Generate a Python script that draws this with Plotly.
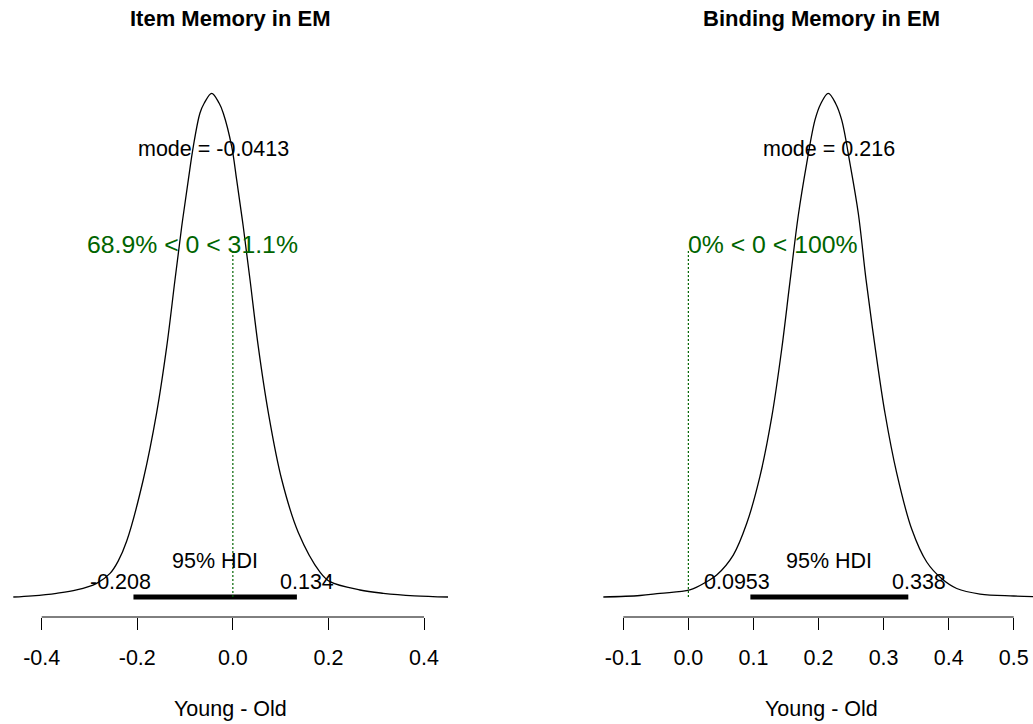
import plotly.graph_objects as go

# ---------------- data ----------------
titles = ["Item Memory in EM", "Binding Memory in EM"]
x_label = "Young - Old"

item_x = [-0.4594, -0.4200, -0.3690, -0.3270, -0.2850, -0.2570, -0.2400, -0.2221,
          -0.1874, -0.1594, -0.1384, -0.1211, -0.1071, -0.0932, -0.0828, -0.0688,
          -0.0600, -0.0443, -0.0286, -0.0200, -0.0024, 0.0080, 0.0218, 0.0359,
          0.0532, 0.0742, 0.1022, 0.1369, 0.1823, 0.2033, 0.2660, 0.3148,
          0.3800, 0.4502]
item_dens = [0.000, 0.011, 0.034, 0.064, 0.125, 0.216, 0.328, 0.511,
             1.073, 1.684, 2.286, 2.897, 3.381, 3.809, 4.113, 4.420,
             4.509, 4.600, 4.509, 4.418, 4.113, 3.809, 3.381, 2.897,
             2.286, 1.684, 1.073, 0.590, 0.228, 0.140, 0.064, 0.034,
             0.011, 0.000]

binding_x = [-0.1307, -0.0743, -0.0436, 0.0022, 0.0282, 0.0435, 0.0690, 0.0896,
             0.1101, 0.1281, 0.1434, 0.1562, 0.1689, 0.1818, 0.1946, 0.2035,
             0.2150, 0.2265, 0.2356, 0.2484, 0.2612, 0.2730, 0.2868, 0.3022,
             0.3202, 0.3432, 0.3663, 0.3900, 0.4124, 0.4482, 0.5000, 0.5630]
binding_dens = [0.000, 0.019, 0.047, 0.090, 0.196, 0.281, 0.537, 0.940,
                1.547, 2.302, 3.171, 4.041, 4.885, 5.550, 6.109, 6.317,
                6.450, 6.317, 6.109, 5.550, 4.911, 4.067, 3.210, 2.353,
                1.586, 0.870, 0.448, 0.230, 0.109, 0.038, 0.013, 0.000]

item_mode = -0.0413
binding_mode = 0.216
item_hdi = [-0.208, 0.134]
binding_hdi = [0.0953, 0.338]
comp_val = 0.0
item_pct = [68.9, 31.1]
binding_pct = [0, 100]

item_ticks = [-0.4, -0.2, 0.0, 0.2, 0.4]
item_ticklabels = ["-0.4", "-0.2", "0.0", "0.2", "0.4"]
binding_ticks = [-0.1, 0.0, 0.1, 0.2, 0.3, 0.4, 0.5]
binding_ticklabels = ["-0.1", "0.0", "0.1", "0.2", "0.3", "0.4", "0.5"]

# ---------------- layout / style ----------------
W, H = 1033, 724
FONT = "Liberation Sans, Arial, sans-serif"
GREEN = "#006400"
FS = 21.5
FS_CMP = 24.8
PAD = 2.5  # annotation box padding compensation
PLOT_TOP, BASE_Y, PEAK_Y, AXIS_Y = 80, 597, 93.3, 617

ARIAL = {**{d: 556 for d in "0123456789"}, ".": 278, "-": 333, "%": 889,
         "<": 584, " ": 278, "=": 584}


def text_w(s, fs):
    return sum(ARIAL.get(c, 556) for c in s) / 1000 * fs


panels = [
    dict(x=item_x, y=item_dens, mode=item_mode, hdi=item_hdi, pct=item_pct,
         ticks=item_ticks, ticklabels=item_ticklabels, title=titles[0],
         dom=(0, 470), rng=(-0.48726, 0.49621), cx=230),
    dict(x=binding_x, y=binding_dens, mode=binding_mode, hdi=binding_hdi,
         pct=binding_pct, ticks=binding_ticks, ticklabels=binding_ticklabels,
         title=titles[1], dom=(590, 1033), rng=(-0.15118, 0.52963), cx=821),
]

fig = go.Figure()
annotations = []
shapes = []
layout = {}

for i, p in enumerate(panels):
    n = "" if i == 0 else str(i + 1)
    xa, ya = "x" + n, "y" + n
    peak = max(p["y"])
    unit = peak / (BASE_Y - PEAK_Y)
    yr = [-(AXIS_Y - BASE_Y) * unit, (BASE_Y - PLOT_TOP) * unit]

    # density curve
    fig.add_trace(go.Scatter(x=p["x"], y=p["y"], mode="lines", xaxis=xa, yaxis=ya,
                             line=dict(color="black", width=1.3, shape="spline",
                                       smoothing=1.0),
                             hoverinfo="skip", showlegend=False))
    # HDI bar
    fig.add_trace(go.Scatter(x=p["hdi"], y=[0, 0], mode="lines", xaxis=xa, yaxis=ya,
                             line=dict(color="black", width=5),
                             hoverinfo="skip", showlegend=False))
    # comparison value line
    fig.add_trace(go.Scatter(x=[comp_val, comp_val], y=[0, 0.69 * peak], mode="lines",
                             xaxis=xa, yaxis=ya,
                             line=dict(color=GREEN, width=1.2, dash="2px,2px"),
                             hoverinfo="skip", showlegend=False))

    # axis line between first and last tick
    shapes.append(dict(type="line", xref=xa, yref=ya + " domain",
                       x0=p["ticks"][0], x1=p["ticks"][-1], y0=0, y1=0,
                       line=dict(color="black", width=1)))

    # texts
    annotations.append(dict(xref=xa, yref=ya, x=p["mode"], y=0.89 * peak,
                            text=f"mode = {p['mode']}", showarrow=False,
                            xanchor="center", yanchor="middle",
                            font=dict(size=FS, color="black", family=FONT)))
    cmp_txt = f"{p['pct'][0]}% < {comp_val:g} < {p['pct'][1]}%"
    annotations.append(dict(xref=xa, yref=ya, x=comp_val, y=0.70 * peak,
                            text=cmp_txt, showarrow=False,
                            xanchor="left", yanchor="middle",
                            xshift=-p["pct"][0] / 100 * text_w(cmp_txt, FS_CMP) - PAD,
                            font=dict(size=FS_CMP, color=GREEN, family=FONT)))
    annotations.append(dict(xref=xa, yref=ya, x=sum(p["hdi"]) / 2, y=0.0719 * peak,
                            text="95% HDI", showarrow=False,
                            xanchor="center", yanchor="middle",
                            font=dict(size=FS, color="black", family=FONT)))
    for val, frac in zip(p["hdi"], (0.7, 0.3)):
        s = f"{val}"
        annotations.append(dict(xref=xa, yref=ya, x=val, y=0.0303 * peak,
                                text=s, showarrow=False,
                                xanchor="left", yanchor="middle",
                                xshift=-frac * text_w(s, FS) - PAD,
                                font=dict(size=FS, color="black", family=FONT)))
    annotations.append(dict(xref="paper", yref="paper", x=p["cx"] / W,
                            y=(H - 19) / H, text=f"<b>{p['title']}</b>",
                            showarrow=False, xanchor="center", yanchor="middle",
                            font=dict(size=22, color="black", family=FONT)))
    annotations.append(dict(xref="paper", yref="paper", x=p["cx"] / W,
                            y=(H - 709) / H, text=x_label,
                            showarrow=False, xanchor="center", yanchor="middle",
                            font=dict(size=FS, color="black", family=FONT)))

    layout["xaxis" + n] = dict(domain=[p["dom"][0] / W, p["dom"][1] / W],
                               range=list(p["rng"]), anchor=ya,
                               tickvals=p["ticks"], ticktext=p["ticklabels"],
                               ticks="outside", ticklen=12, tickwidth=1,
                               tickcolor="black", showline=False, showgrid=False,
                               zeroline=False, ticklabelstandoff=9,
                               tickfont=dict(size=FS, color="black", family=FONT))
    layout["yaxis" + n] = dict(domain=[(H - AXIS_Y) / H, (H - PLOT_TOP) / H],
                               range=yr, anchor=xa, visible=False,
                               showgrid=False, zeroline=False)

fig.update_layout(width=W, height=H, margin=dict(l=0, r=0, t=0, b=0),
                  paper_bgcolor="white", plot_bgcolor="white",
                  annotations=annotations, shapes=shapes, **layout)

fig.write_html("out.html")
